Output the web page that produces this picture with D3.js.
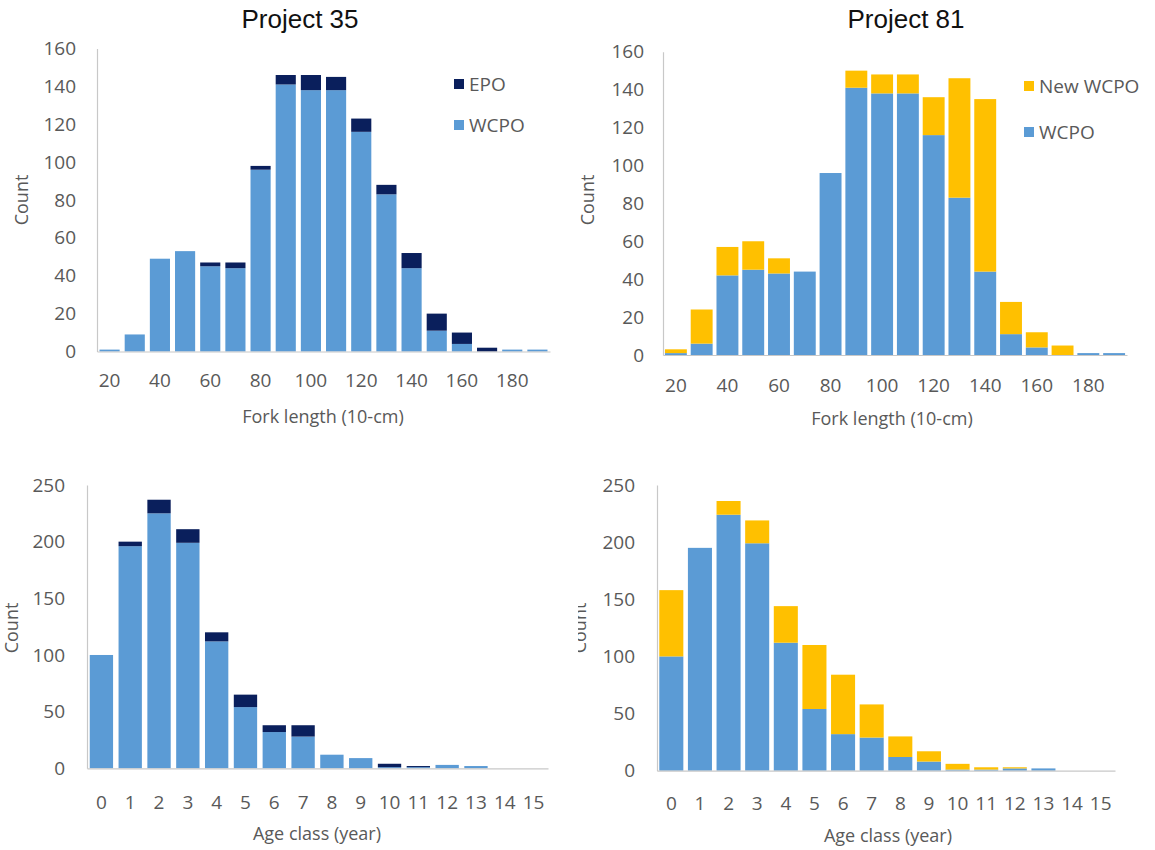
<!DOCTYPE html>
<html>
<head>
<meta charset="utf-8">
<script src="https://cdn.jsdelivr.net/npm/d3@7"></script>
<style>
  body { margin: 0; background: #fff; }
  svg text { font-family: "Open Sans", sans-serif; fill: #595959; }
  .title { font-family: "Liberation Sans", Arial, sans-serif; fill: #111; }
</style>
</head>
<body>
<svg id="chart"></svg>
<script>
'use strict';

// categories
var forkLengths = [20, 30, 40, 50, 60, 70, 80, 90, 100, 110, 120, 130, 140, 150, 160, 170, 180, 190];
var forkTicks = [20, 40, 60, 80, 100, 120, 140, 160, 180];
var ageClasses = [0, 1, 2, 3, 4, 5, 6, 7, 8, 9, 10, 11, 12, 13, 14, 15];

// Project 35, fork length
var p35ForkWCPO = [1, 9, 49, 53, 45, 44, 96, 141, 138, 138, 116, 83, 44, 11, 4, 0, 1, 1];
var p35ForkEPO  = [0, 0, 0, 0, 2, 3, 2, 5, 8, 7, 7, 5, 8, 9, 6, 2, 0, 0];
// Project 81, fork length
var p81ForkWCPO = [1, 6, 42, 45, 43, 44, 96, 141, 138, 138, 116, 83, 44, 11, 4, 0, 1, 1];
var p81ForkNew  = [2, 18, 15, 15, 8, 0, 0, 9, 10, 10, 20, 63, 91, 17, 8, 5, 0, 0];
// Project 35, age class
var p35AgeWCPO = [100, 196, 225, 199, 112, 54, 32, 28, 12, 9, 1, 1, 3, 2, 0, 0];
var p35AgeEPO  = [0, 4, 12, 12, 8, 11, 6, 10, 0, 0, 3, 1, 0, 0, 0, 0];
// Project 81, age class
var p81AgeWCPO = [100, 195, 224, 199, 112, 54, 32, 29, 12, 8, 1, 1, 2, 2, 0, 0];
var p81AgeNew  = [58, 0, 12, 20, 32, 56, 52, 29, 18, 9, 5, 2, 1, 0, 0, 0];

var forkCountTicks = [0, 20, 40, 60, 80, 100, 120, 140, 160];
var ageCountTicks = [0, 50, 100, 150, 200, 250];

var colors = { WCPO: '#5b9bd5', EPO: '#0a1f5c', New: '#ffc000' };

var svg = d3.select('#chart')
  .attr('width', 1155)
  .attr('height', 850);

svg.append('text')
  .attr('class', 'title')
  .attr('x', 300)
  .attr('y', 28)
  .attr('text-anchor', 'middle')
  .style('font-size', '26px')
  .text('Project 35');

svg.append('text')
  .attr('class', 'title')
  .attr('x', 906)
  .attr('y', 28)
  .attr('text-anchor', 'middle')
  .style('font-size', '26px')
  .text('Project 81');

function drawPanel(opt) {
  var rows = opt.categories.map(function(c, i) {
    var r = { cat: c };
    opt.series.forEach(function(s) { r[s.key] = s.values[i]; });
    return r;
  });
  var keys = opt.series.map(function(s) { return s.key; });
  var stacked = d3.stack().keys(keys)(rows);

  var xScale = d3.scaleBand()
    .domain(opt.categories)
    .range([opt.left, opt.right])
    .paddingInner(opt.padding)
    .paddingOuter(opt.padding / 2);
  var yScale = d3.scaleLinear()
    .domain([0, opt.yMax])
    .range([opt.bottom, opt.top]);

  var g = svg.append('g');

  // bars
  g.selectAll('.layer')
    .data(stacked)
    .enter().append('g')
    .attr('fill', function(d) { return colors[d.key]; })
    .selectAll('rect')
    .data(function(d) { return d; })
    .enter().append('rect')
    .attr('x', function(d) { return xScale(d.data.cat); })
    .attr('width', xScale.bandwidth())
    .attr('y', function(d) { return yScale(d[1]); })
    .attr('height', function(d) { return yScale(d[0]) - yScale(d[1]); });

  // y axis
  var yAxis = g.append('g')
    .attr('transform', 'translate(' + opt.left + ',0)')
    .call(d3.axisLeft(yScale).tickValues(opt.yTicks).tickSize(0).tickPadding(opt.yPad));
  yAxis.select('.domain').attr('stroke', '#c8c8c8').attr('stroke-width', 1.2);
  yAxis.selectAll('text').style('font-size', '19px').attr('fill', '#595959');

  // x axis
  var xAxis = g.append('g')
    .attr('transform', 'translate(0,' + opt.bottom + ')')
    .call(d3.axisBottom(xScale).tickValues(opt.xTicks).tickSize(0).tickPadding(opt.xPad));
  xAxis.select('.domain').attr('stroke', '#c8c8c8').attr('stroke-width', 1.2);
  xAxis.selectAll('text').style('font-size', '19px').attr('fill', '#595959');

  // axis titles
  g.append('text')
    .attr('x', opt.xTitle[0])
    .attr('y', opt.xTitle[1])
    .attr('text-anchor', 'middle')
    .style('font-size', '18px')
    .text(opt.xLabel);

  // the y title sits in a group so a clip can be given in page coordinates
  var ytHolder = g.append('g');
  ytHolder.append('text')
    .attr('transform', 'translate(' + opt.yTitle[0] + ',' + opt.yTitle[1] + ') rotate(-90)')
    .attr('text-anchor', 'middle')
    .attr('dy', '0.35em')
    .style('font-size', '18px')
    .text('Count');
  if (opt.yClip) {
    var id = 'clip' + Math.round(opt.left);
    svg.append('clipPath').attr('id', id)
      .append('rect')
      .attr('x', opt.yClip).attr('y', opt.yTitle[1] - 60)
      .attr('width', 40).attr('height', 120);
    ytHolder.attr('clip-path', 'url(#' + id + ')');
  }

  // legend
  if (opt.legend) {
    var leg = g.selectAll('.legend')
      .data(opt.legend.keys)
      .enter().append('g')
      .attr('transform', function(d, i) {
        return 'translate(' + opt.legend.x + ',' + (opt.legend.y + i * opt.legend.step) + ')';
      });
    leg.append('rect')
      .attr('x', 0)
      .attr('y', -5)
      .attr('width', 10)
      .attr('height', 10)
      .attr('fill', function(d) { return colors[d.key]; });
    leg.append('text')
      .attr('x', 15)
      .attr('dy', '0.35em')
      .style('font-size', '19px')
      .text(function(d) { return d.label; });
  }
}

drawPanel({
  categories: forkLengths,
  series: [{ key: 'WCPO', values: p35ForkWCPO }, { key: 'EPO', values: p35ForkEPO }],
  left: 97, right: 550, top: 48.5, bottom: 351.5, yMax: 160, padding: 0.2,
  yTicks: forkCountTicks, xTicks: forkTicks, yPad: 21, xPad: 22,
  xLabel: 'Fork length (10-cm)', xTitle: [323, 423], yTitle: [22, 200],
  legend: { keys: [{ key: 'EPO', label: 'EPO' }, { key: 'WCPO', label: 'WCPO' }], x: 454, y: 84, step: 41 }
});

drawPanel({
  categories: forkLengths,
  series: [{ key: 'WCPO', values: p81ForkWCPO }, { key: 'New', values: p81ForkNew }],
  left: 663, right: 1127, top: 51.7, bottom: 355, yMax: 160, padding: 0.15,
  yTicks: forkCountTicks, xTicks: forkTicks, yPad: 19, xPad: 24,
  xLabel: 'Fork length (10-cm)', xTitle: [892, 425], yTitle: [588, 200],
  legend: { keys: [{ key: 'New', label: 'New WCPO' }, { key: 'WCPO', label: 'WCPO' }], x: 1024, y: 86, step: 46 }
});

drawPanel({
  categories: ageClasses,
  series: [{ key: 'WCPO', values: p35AgeWCPO }, { key: 'EPO', values: p35AgeEPO }],
  left: 87, right: 548, top: 485, bottom: 768.3, yMax: 250, padding: 0.19,
  yTicks: ageCountTicks, xTicks: ageClasses, yPad: 22, xPad: 27,
  xLabel: 'Age class (year)', xTitle: [317, 840], yTitle: [12, 628]
});

drawPanel({
  categories: ageClasses,
  series: [{ key: 'WCPO', values: p81AgeWCPO }, { key: 'New', values: p81AgeNew }],
  left: 657, right: 1115, top: 485, bottom: 770.7, yMax: 250, padding: 0.16,
  yTicks: ageCountTicks, xTicks: ageClasses, yPad: 22, xPad: 26,
  xLabel: 'Age class (year)', xTitle: [888, 842], yTitle: [580, 628], yClip: 578
});
</script>
</body>
</html>
